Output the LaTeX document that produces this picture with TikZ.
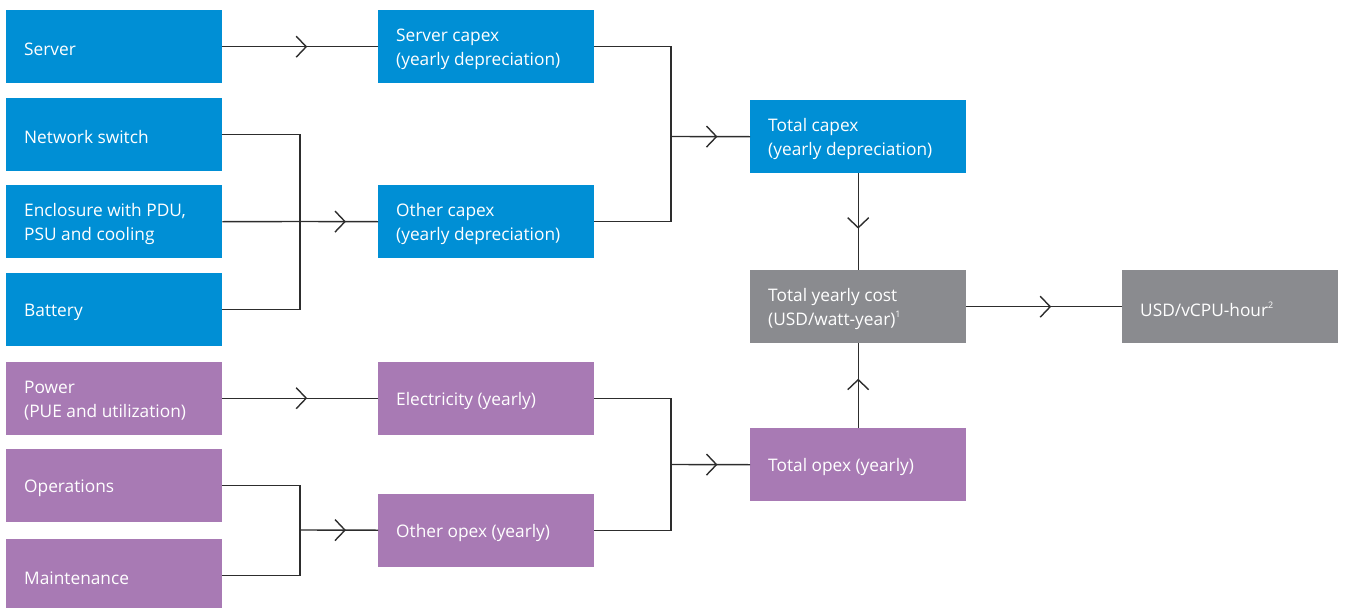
\documentclass[tikz,border=0pt]{standalone}
\usepackage{fontspec}
\setmainfont{Open Sans}
\usetikzlibrary{decorations.markings}

\definecolor{capexblue}{RGB}{0,143,213}
\definecolor{opexpurple}{RGB}{168,122,180}
\definecolor{costgray}{RGB}{138,139,143}
\definecolor{linegray}{RGB}{45,45,45}

\newcommand{\fnmark}[1]{\raisebox{0.45em}{\fontsize{9}{9}\selectfont #1}}
% \costbox{style}{name}{top-left corner}{text}: a filled box with its caption
\newcommand{\costbox}[4]{%
  \node[#1] (#2) at (#3) {};
  \node[boxtext] (#2-text) at ([yshift=-2.5pt]#2.west) {#4};}

\begin{document}
\begin{tikzpicture}[x=1pt,y=-1pt,
  box/.style={rectangle, anchor=north west, minimum width=216pt, minimum height=73pt,
    inner sep=0pt},
  boxtext/.style={anchor=west, inner xsep=18pt, inner ysep=0pt, align=left,
    text=white, font=\fontsize{17.3}{24}\selectfont},
  capex/.style={box, fill=capexblue},
  opex/.style={box, fill=opexpurple},
  cost/.style={box, fill=costgray},
  link/.style={draw=linegray, line width=1.4pt},
  flow/.style={link, postaction={decorate}, decoration={markings,
    mark=at position 0.5 with {\draw[linegray, line width=1.4pt] (-4pt,-10.5pt) -- (6pt,0pt) -- (-4pt,10.5pt);}}}
]
\useasboundingbox (0,0) rectangle (1345,608);

% inputs
\costbox{capex}{server}{6,10}{Server}
\costbox{capex}{netsw}{6,97.5}{Network switch}
\costbox{capex}{encl}{6,185}{Enclosure with PDU,\\PSU and cooling}
\costbox{capex}{battery}{6,273}{Battery}
\costbox{opex}{power}{6,361.5}{Power\\(PUE and utilization)}
\costbox{opex}{ops}{6,449}{Operations}
\costbox{opex}{maint}{6,539}{Maintenance}

% yearly items
\costbox{capex}{scapex}{378,10}{Server capex\\(yearly depreciation)}
\costbox{capex}{ocapex}{378,185}{Other capex\\(yearly depreciation)}
\costbox{opex}{elec}{378,361.5}{Electricity (yearly)}
\costbox{opex}{oopex}{378,493.5}{Other opex (yearly)}

% totals
\costbox{capex}{tcapex}{750,100}{Total capex\\(yearly depreciation)}
\costbox{cost}{tcost}{750,270}{Total yearly cost\\(USD/watt-year)\fnmark{1}}
\costbox{opex}{topex}{750,428}{Total opex (yearly)}
\costbox{cost}{usd}{1122,270}{USD/vCPU-hour\fnmark{2}}

% junctions
\coordinate (jA) at (300,221.5);
\coordinate (jB) at (671,136.5);
\coordinate (jC) at (671,464.5);
\coordinate (jD) at (300,530);

% connectors
\draw[flow] (server.east) -- (scapex.west);
\draw[link] (netsw.east) -| (jA) |- (battery.east);
\draw[link] (encl.east) -- (jA);
\draw[flow] (jA) -- (ocapex.west);

\draw[link] (scapex.east) -| (jB) |- (ocapex.east);
\draw[flow] (jB) -- (tcapex.west);

\draw[flow] (power.east) -- (elec.west);
\draw[link] (ops.east) -| (jD) |- (maint.east);
\draw[flow] (jD) -- (oopex.west);

\draw[link] (elec.east) -| (jC) |- (oopex.east);
\draw[flow] (jC) -- (topex.west);

\draw[flow] (tcapex.south) -- (tcost.north);
\draw[flow] (topex.north) -- (tcost.south);
\draw[flow] (tcost.east) -- (usd.west);
\end{tikzpicture}
\end{document}
